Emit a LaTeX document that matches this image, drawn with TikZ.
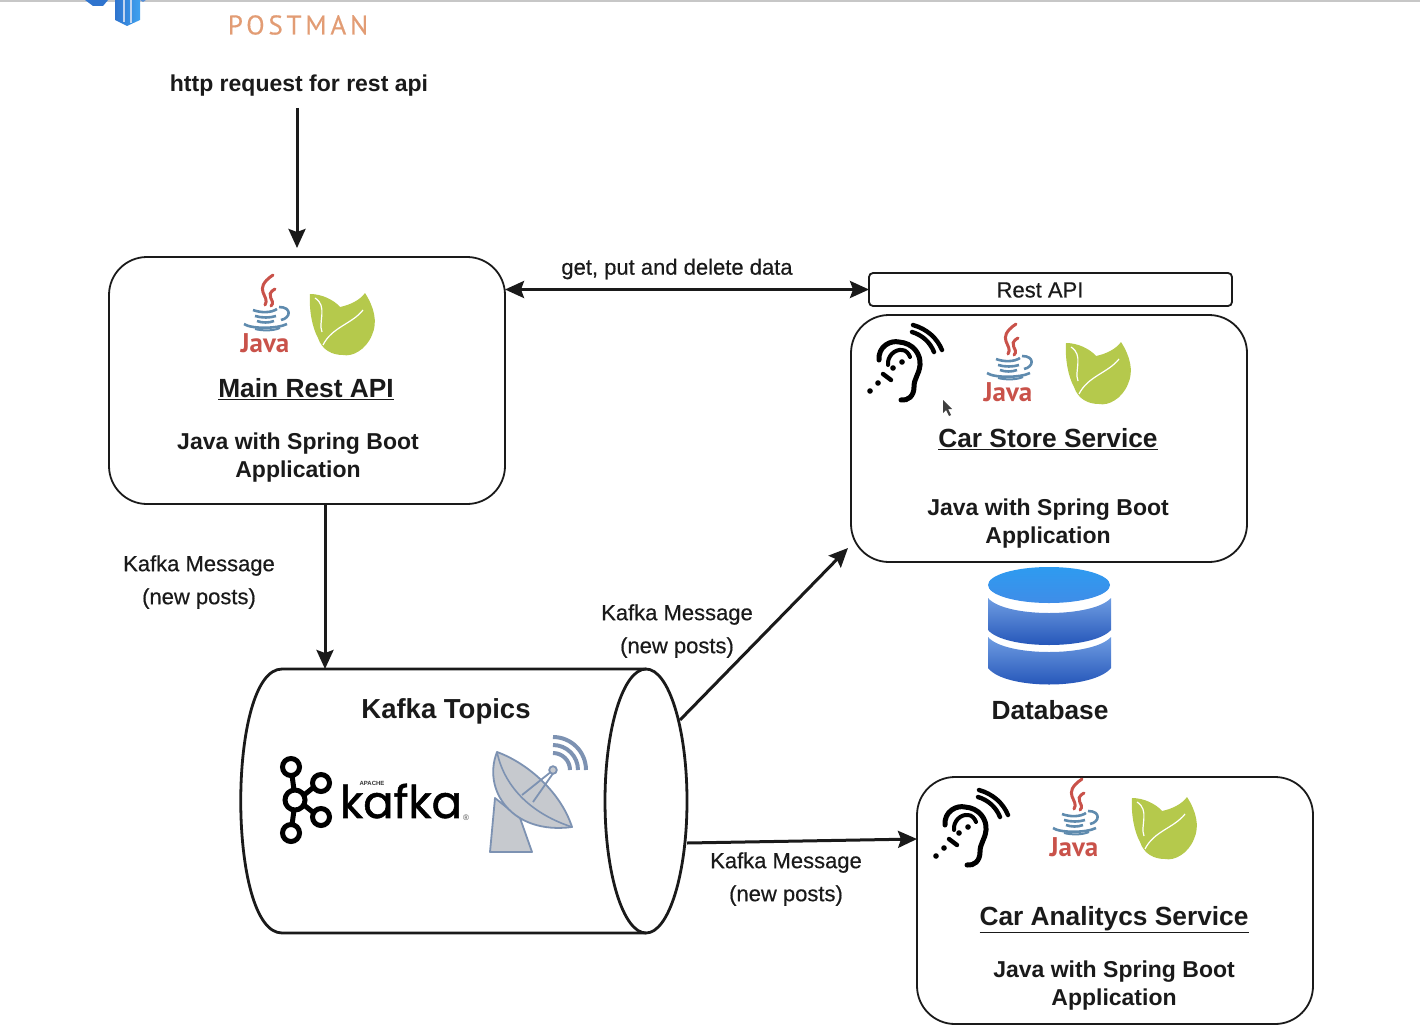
\documentclass[tikz,border=0pt]{standalone}
\usepackage{fontspec}
\setmainfont{Liberation Sans}
\newfontfamily\labelfont[FakeBold=0.5]{Liberation Sans}
\newfontfamily\ptfont{PT Sans}
\newfontfamily\pmanfont[LetterSpace=14,FakeBold=0.4]{PT Sans}
\newfontfamily\kafkafont[FakeBold=1.2]{Poppins}
\usetikzlibrary{arrows.meta}
\definecolor{inkblack}{HTML}{1A1A1A}
\definecolor{leafgreen}{HTML}{B5C94C}
\definecolor{javared}{HTML}{C9524A}
\definecolor{javablue}{HTML}{5F8BAE}
\definecolor{dishgray}{HTML}{C6C9CE}
\definecolor{dishblue}{HTML}{7D92B2}
\definecolor{pmanorange}{HTML}{E29C74}
\definecolor{dbtopa}{HTML}{2E9BF0}
\definecolor{dbtopb}{HTML}{3F8DE8}
\definecolor{dbbanda}{HTML}{6F9DE2}
\definecolor{dbbandb}{HTML}{1E4FB5}
\definecolor{pmanblue}{HTML}{2F74CE}
\definecolor{pmanblueb}{HTML}{3FA2F0}
\tikzset{
	flow/.style={draw=inkblack, line width=3, -{Stealth[length=19,width=17,inset=3]}},
	flowboth/.style={draw=inkblack, line width=3, {Stealth[length=19,width=17,inset=3]}-{Stealth[length=19,width=17,inset=3]}},
	appbox/.style={draw=inkblack, line width=1.8, rounded corners=38, minimum width=396, minimum height=247, inner sep=0, outer sep=0},
	titletext/.style={font=\fontsize{26.3}{30}\selectfont\bfseries, text=inkblack, inner sep=1},
	boldtext/.style={font=\fontsize{23}{28}\selectfont\bfseries, text=inkblack, align=center, inner sep=1},
	labeltext/.style={font=\fontsize{22}{33}\selectfont\labelfont, text=inkblack, align=center, inner sep=1},
	javaicon/.pic={
		\draw[javared, line width=3, line cap=round] (8,-41) .. controls (-14,-26) and (6,-20) .. (0,-11);
		\draw[javared, line width=3, line cap=round] (10,-27) .. controls (-2,-20) and (12,-16) .. (6,-10);
		\draw[javablue, line width=2.6] (-12,-6) .. controls (-4,-3) and (6,-3) .. (12,-7);
		\draw[javablue, line width=2.6] (-10,0) .. controls (-3,2) and (5,2) .. (11,0);
		\draw[javablue, line width=2.6] (-8,5) .. controls (-3,7) and (4,7) .. (9,5);
		\draw[javablue, line width=2.6] (14,-9) .. controls (27,-9) and (26,2) .. (16,4);
		\draw[javablue, line width=2.6] (-21,8) .. controls (-14,13) and (12,13) .. (22,8);
		\draw[javablue, line width=2] (-10,13) .. controls (-2,15) and (8,15) .. (15,12);
		\node[font=\fontsize{27}{27}\selectfont\ptfont\bfseries, text=javared, inner sep=0] (-word) at (0,27) {Java};
	},
	leaficon/.pic={
		\fill[leafgreen] (-32,-28) .. controls (-20,-28) and (-8,-22) .. (-2,-15)
			.. controls (8,-17) and (18,-22) .. (23,-29)
			.. controls (32,-15) and (36,0) .. (30,13)
			.. controls (24,28) and (10,35) .. (1,33)
			.. controls (-10,33) and (-20,28) .. (-24,16)
			.. controls (-30,5) and (-33,-12) .. (-32,-28) -- cycle;
		\draw[white, line width=1.2] (-19,23) .. controls (-10,5) and (10,2) .. (21,-12);
		\draw[white, line width=1.2] (-27,-24) .. controls (-14,-16) and (-24,0) .. (-20,10);
	},
	earicon/.pic={
		\draw[black, line width=5, line cap=round] (-26,0) .. controls (-27,-14) and (-14,-20) .. (-6,-18)
			.. controls (8,-17) and (16,-6) .. (15,5) .. controls (14,15) and (9,18) .. (9,27)
			.. controls (9,36) and (3,41) .. (-4,40);
		\draw[black, line width=4, line cap=round] (-17,5) .. controls (-18,-4) and (-10,-11) .. (-3,-10)
			.. controls (1,-10) and (4,-6) .. (5,-3);
		\draw[black, line width=4.4, line cap=round] (8,-35) .. controls (22,-31) and (32,-22) .. (37,-10);
		\draw[black, line width=4.4, line cap=round] (7,-28) .. controls (17,-25) and (25,-18) .. (29,-8);
		\draw[black, line width=4.4, line cap=round] (-22,14) -- (-14,20);
		\foreach \dotx/\doty in {-35/31, -27/23, -12/8, -3/2}
			\fill[black] (\dotx,\doty) circle[radius=2.8];
	}
}
\begin{document}
\begin{tikzpicture}[x=1pt,y=-1pt]
	\useasboundingbox (0,0) rectangle (1420,1030);
	\fill[black!22] (0,0) rectangle (1420,2.5);

	% postman logo cut by the top
	\shade[left color=pmanblue, right color=pmanblueb] (115,0) -- (115,20) -- (127,26) -- (140,20) -- (140,0) -- cycle;
	\draw[white!70!pmanblue, line width=1.2] (124,0) -- (124,22) (131,0) -- (131,23);
	\fill[pmanblue] (85,0) -- (93,6) -- (103,6) -- (108,0) -- cycle;
	\fill[pmanblue!80] (140,0) -- (143,2) -- (146,0) -- cycle;
	\node[font=\fontsize{27}{27}\selectfont\pmanfont, text=pmanorange, inner sep=0] (postman) at (298,25) {POSTMAN};
	\node[boldtext] (httpreq) at (299,86) {http request for rest api};

	% boxes
	\node[appbox] (mainapi) at (307,380.5) {};
	\node[appbox] (carstore) at (1049,438.5) {};
	\node[appbox] (caranalytics) at (1115,900.5) {};
	\node[draw=inkblack, line width=1.8, rounded corners=4, minimum width=363, minimum height=33, inner sep=0, outer sep=0] (restbox) at (1050.5,289.5) {};
	\node[labeltext] (restlabel) at (1040,290) {Rest API};

	% kafka cylinder
	\draw[inkblack, line width=2.8] (646,669) -- (282,669) .. controls (227,669) and (227,933) .. (282,933) -- (646,933);
	\draw[inkblack, line width=2.8] (646,801) ellipse[x radius=41, y radius=132];

	% main box
	\pic at (265,316) {javaicon};
	\pic at (342,322) {leaficon};
	\node[titletext] (maintitle) at (306,389) {\underline{Main Rest API}};
	\node[boldtext] (maintext) at (298,458) {Java with Spring Boot\\Application};

	% car store
	\pic at (905,360) {earicon};
	\pic at (1008,365) {javaicon};
	\pic at (1098,371) {leaficon};
	\node[titletext] (storetitle) at (1048,439) {\underline{Car Store Service}};
	\node[boldtext] (storetext) at (1048,524) {Java with Spring Boot\\Application};

	% mouse pointer
	\fill[black!75] (943,400) -- (943,413) -- (946,410) -- (949,416) -- (951,415) -- (948,409) -- (952,409) -- cycle;

	% car analytics
	\pic at (971,825) {earicon};
	\pic at (1074,820) {javaicon};
	\pic at (1164,826) {leaficon};
	\node[titletext] (analyticstitle) at (1114,920) {\underline{Car Analitycs Service}};
	\node[boldtext] (analyticstext) at (1114,986) {Java with Spring Boot\\Application};

	% database
	\shade[top color=dbbanda, bottom color=dbbandb] (988,598) .. controls (1005,618) and (1093,618) .. (1111,598) -- (1111,630) .. controls (1093,650) and (1005,650) .. (988,630) -- cycle;
	\shade[top color=dbbanda, bottom color=dbbandb] (988,637) .. controls (1005,657) and (1093,657) .. (1111,637) -- (1111,668) .. controls (1093,690) and (1005,690) .. (988,668) -- cycle;
	\shade[top color=dbtopa, bottom color=dbtopb] (1049,585) ellipse[x radius=61, y radius=18];
	\node[titletext] (dblabel) at (1050,710) {Database};

	% kafka logo
	\node[titletext, font=\fontsize{27.5}{30}\selectfont\bfseries] (kafkalabel) at (446,711) {Kafka Topics};
	\draw[black, line width=5] (291,767) circle[radius=8.5] (321,783) circle[radius=8.5] (295,800) circle[radius=10] (321,817) circle[radius=8.5] (291,833) circle[radius=8.5];
	\draw[black, line width=5] (292,775) -- (294,790) (292,825) -- (294,810) (314,787) -- (304,795) (314,813) -- (304,805);
	\node[font=\fontsize{45}{45}\selectfont\kafkafont, text=black, inner sep=0] (kafkaword) at (401,801) {kafka};
	\node[font=\fontsize{6}{6}\selectfont\bfseries, text=black!80, inner sep=0] (apacheword) at (372,783) {APACHE};
	\node[font=\fontsize{8}{8}\selectfont, text=black!70, inner sep=0] (regmark) at (466,818) {\textregistered};

	% dish
	\draw[dishblue, line width=1.8, fill=dishgray, line join=round] (495,798) -- (490,852) -- (532,852) -- (520,818) -- cycle;
	\draw[dishblue, line width=1.8, fill=dishgray, line join=round] (497,752) .. controls (482,790) and (512,835) .. (572,827) .. controls (560,790) and (525,762) .. (497,752) -- cycle;
	\draw[dishblue, line width=1.6] (497,752) .. controls (505,790) and (535,815) .. (572,827);
	\draw[dishblue, line width=1.8] (522,795) -- (552,771) (533,802) -- (554,772);
	\draw[dishblue, line width=1.8, fill=dishgray] (553,770) circle[radius=3.8];
	\draw[dishblue, line width=4] (553,737) arc[start angle=-90, end angle=0, radius=33];
	\draw[dishblue, line width=4] (553,745) arc[start angle=-90, end angle=0, radius=25];
	\draw[dishblue, line width=4] (553,753) arc[start angle=-90, end angle=0, radius=17];

	% connectors
	\coordinate (httpstart) at (297,108);
	\coordinate (httpend) at (297,248);
	\coordinate (maindown) at (325,504);
	\coordinate (kafkain) at (325,669);
	\coordinate (kafkaoutup) at (680,720);
	\coordinate (storein) at (848,548);
	\coordinate (kafkaoutright) at (687,843);
	\coordinate (analyticsin) at (917,839);
	\draw[flow] (httpstart) -- (httpend);
	\draw[flowboth] (mainapi.east |- restbox.west) -- (restbox.west);
	\draw[flow] (maindown) -- (kafkain);
	\draw[flow] (kafkaoutup) -- (storein);
	\draw[flow] (kafkaoutright) -- (analyticsin);

	% connector labels
	\node[labeltext] (getlabel) at (677,269) {get, put and delete data};
	\node[labeltext] (msgone) at (199,582) {Kafka Message\\(new posts)};
	\node[labeltext] (msgtwo) at (677,631) {Kafka Message\\(new posts)};
	\node[labeltext] (msgthree) at (786,879) {Kafka Message\\(new posts)};
\end{tikzpicture}
\end{document}
